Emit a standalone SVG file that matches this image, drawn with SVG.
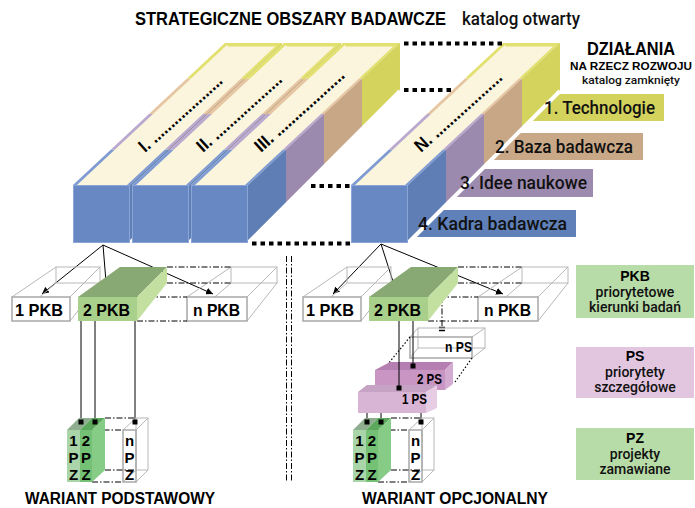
<svg xmlns="http://www.w3.org/2000/svg" width="695" height="508" viewBox="0 0 695 508">
<defs>
<style>
.b{font-family:"Liberation Sans",Arial,sans-serif;font-weight:bold;fill:#000}
.m{font-family:Roboto,"Liberation Sans",Arial,sans-serif;font-weight:500;fill:#111}
.cream{fill:#faf5dc}
.fb{fill:#6888c3;stroke:#8aa5d8;stroke-width:1}
.rb{fill:#5e7eb5}.rp{fill:#9c8aae}.rt{fill:#c8a787}.ry{fill:#d4d35d}
.sb{fill:#7f9bd3}.sp{fill:#b9a8cf}.st{fill:#e6c6a2}.sy{fill:#e2e16f}
.wire{fill:none;stroke:#b8b8b8;stroke-width:1}
.wf{fill:#fff;stroke:#a8a8a8;stroke-width:1.5}
.wfn{fill:none;stroke:#a8a8a8;stroke-width:1.5}
.dd{fill:none;stroke:#000;stroke-width:1;stroke-dasharray:6 2 1.5 2}
.dot{fill:none;stroke:#000;stroke-width:4;stroke-dasharray:4.5 4}
.fdot{fill:none;stroke:#000;stroke-width:1.2;stroke-dasharray:1.5 2}
.ln{stroke:#000;stroke-width:1;fill:none}
.mk{fill:#000}
</style>
<marker id="ah" viewBox="0 0 10 10" refX="10" refY="5" markerWidth="7" markerHeight="7" orient="auto" markerUnits="userSpaceOnUse"><path d="M0,0 L10,5 L0,10 z" fill="#000"/></marker>
<g id="beam">
<polygon class="cream" points="0,185 57,185 209,43 152,43"/>
<polygon class="sb" points="0,185 38,149.5 42,149.5 4,185"/>
<polygon class="sp" points="38,149.5 76,114 80,114 42,149.5"/>
<polygon class="st" points="76,114 114,78.5 118,78.5 80,114"/>
<polygon class="sy" points="114,78.5 152,43 156,43 118,78.5"/>
<polygon class="sy" points="152,43 209,43 206,46.5 155,46.5"/>
<polygon class="sb" points="57,185 95,149.5 92,149.5 54,185"/>
<polygon class="sp" points="95,149.5 133,114 130,114 92,149.5"/>
<polygon class="st" points="133,114 171,78.5 168,78.5 130,114"/>
<polygon class="sy" points="171,78.5 209,43 206,43 168,78.5"/>
<polygon class="rb" points="57,185 95,149.5 95,205 57,243"/>
<polygon class="rp" points="95,149.5 133,114 133,167 95,205"/>
<polygon class="rt" points="133,114 171,78.5 171,129 133,167"/>
<polygon class="ry" points="171,78.5 209,43 209,91 171,129"/>
<line x1="57" y1="243" x2="209" y2="91" stroke="#fff" stroke-width="4"/>
<rect class="fb" x="0.5" y="185.5" width="56" height="57"/>
</g>
</defs>

<g id="title">
<text class="b" x="135" y="25" font-size="18" textLength="311" lengthAdjust="spacingAndGlyphs">STRATEGICZNE OBSZARY BADAWCZE</text>
<text class="m" x="462" y="25" font-size="18" textLength="118" lengthAdjust="spacingAndGlyphs">katalog otwarty</text>
</g>
<g id="dzialania">
<text class="b" x="631" y="55" font-size="18" text-anchor="middle" textLength="88" lengthAdjust="spacingAndGlyphs">DZIAŁANIA</text>
<text class="b" x="631" y="70" font-size="11" text-anchor="middle" textLength="122" lengthAdjust="spacingAndGlyphs">NA RZECZ ROZWOJU</text>
<text class="m" x="631" y="84" font-size="11" text-anchor="middle" textLength="98" lengthAdjust="spacingAndGlyphs">katalog zamknięty</text>
</g>

<g id="labels">
<rect x="522" y="94" width="142" height="27" fill="#d3d25c"/>
<rect x="484" y="133" width="159" height="27" fill="#c9a887"/>
<rect x="446" y="169" width="147" height="28" fill="#9d8baf"/>
<rect x="408" y="210" width="168" height="27" fill="#5f80b8"/>
</g>

<g id="beam-I" transform="translate(73,0)"><use href="#beam"/></g>
<g id="beam-II" transform="translate(132,0)"><use href="#beam"/></g>
<g id="beam-III" transform="translate(191,0)"><use href="#beam"/></g>
<g id="beam-N" transform="translate(351,0)"><use href="#beam"/></g>

<g id="beam-texts">
<text class="b" font-size="18" transform="translate(145,153) rotate(-42)" textLength="106" lengthAdjust="spacingAndGlyphs">I. ....................</text>
<text class="b" font-size="18" transform="translate(203,153) rotate(-42)" textLength="108" lengthAdjust="spacingAndGlyphs">II. ...................</text>
<text class="b" font-size="18" transform="translate(261,153) rotate(-42)" textLength="114" lengthAdjust="spacingAndGlyphs">III. ...................</text>
<text class="b" font-size="18" transform="translate(421,153) rotate(-42)" textLength="111" lengthAdjust="spacingAndGlyphs">N. ...................</text>
</g>

<g id="label-texts">
<text class="m" x="544" y="114" font-size="18" textLength="111" lengthAdjust="spacingAndGlyphs">1. Technologie</text>
<text class="m" x="495" y="153" font-size="18" textLength="138" lengthAdjust="spacingAndGlyphs">2. Baza badawcza</text>
<text class="m" x="460" y="189" font-size="18" textLength="127" lengthAdjust="spacingAndGlyphs">3. Idee naukowe</text>
<text class="m" x="418" y="230" font-size="18" textLength="149" lengthAdjust="spacingAndGlyphs">4. Kadra badawcza</text>
</g>

<g id="connectors">
<line class="dot" x1="404" y1="43.5" x2="503" y2="43.5"/>
<line class="dot" x1="404" y1="90" x2="452" y2="90"/>
<line class="dot" x1="311" y1="186" x2="350" y2="186"/>
<line class="dot" x1="252" y1="243.5" x2="350" y2="243.5"/>
<line class="dd" x1="286.5" y1="256" x2="286.5" y2="482"/>
<line class="dd" x1="291.5" y1="256" x2="291.5" y2="482"/>
<line class="ln" x1="103" y1="245" x2="42" y2="294" marker-end="url(#ah)"/>
<line class="ln" x1="103" y1="245" x2="107" y2="294" marker-end="url(#ah)"/>
<line class="ln" x1="103" y1="245" x2="213" y2="294" marker-end="url(#ah)"/>
<line class="ln" x1="381" y1="244" x2="333" y2="294" marker-end="url(#ah)"/>
<line class="ln" x1="381" y1="244" x2="397" y2="294" marker-end="url(#ah)"/>
<line class="ln" x1="381" y1="244" x2="503" y2="294" marker-end="url(#ah)"/>
</g>

<g id="pkb-left">
<g id="pkb1-l">
<rect class="wire" x="56" y="267" width="44" height="16"/>
<path class="wire" d="M12,297 L56,267 M70,297 L100,267 M70,321 L100,283 M12,321 L56,283"/>
<rect class="wf" x="12" y="297" width="58" height="24"/>
<text class="b" x="15" y="316" font-size="17" textLength="48" lengthAdjust="spacingAndGlyphs">1 PKB</text>
</g>
<g id="pkbn-l">
<rect class="wire" x="231" y="267" width="46" height="16"/>
<path class="wire" d="M187,297 L231,267 M247,297 L277,267 M247,321 L277,283 M187,321 L231,283"/>
<rect class="wf" x="187" y="297" width="60" height="24"/>
<text class="b" x="193" y="316" font-size="17" textLength="47" lengthAdjust="spacingAndGlyphs">n PKB</text>
</g>
<path class="dd" d="M167,267 H231 M167,283 H231 M137,297 H187 M137,321 H187"/>
<g id="pkb2-l">
<polygon points="78,297 137,297 167,267 120,267" fill="#88a973"/>
<polygon points="137,297 167,267 167,283 137,321" fill="#c4e0a1"/>
<rect x="78" y="297" width="59" height="24" fill="#a8d08b"/>
<text class="b" x="83" y="316" font-size="17" textLength="47" lengthAdjust="spacingAndGlyphs">2 PKB</text>
</g>
</g>

<g id="pkb-right">
<g id="pkb1-r">
<rect class="wire" x="347" y="267" width="44" height="16"/>
<path class="wire" d="M303,297 L347,267 M361,297 L391,267 M361,321 L391,283 M303,321 L347,283"/>
<rect class="wf" x="303" y="297" width="58" height="24"/>
<text class="b" x="306" y="316" font-size="17" textLength="48" lengthAdjust="spacingAndGlyphs">1 PKB</text>
</g>
<g id="pkbn-r">
<rect class="wire" x="522" y="267" width="46" height="16"/>
<path class="wire" d="M478,297 L522,267 M538,297 L568,267 M538,321 L568,283 M478,321 L522,283"/>
<rect class="wf" x="478" y="297" width="60" height="24"/>
<text class="b" x="484" y="316" font-size="17" textLength="47" lengthAdjust="spacingAndGlyphs">n PKB</text>
</g>
<path class="dd" d="M458,267 H522 M458,283 H522 M428,297 H478 M428,321 H478 M442,297 V327"/>
<path d="M439,327.5 h6 M439,330.5 h6" stroke="#000" stroke-width="1.5"/>
<g id="pkb2-r">
<polygon points="369,297 428,297 458,267 411,267" fill="#88a973"/>
<polygon points="428,297 458,267 458,283 428,321" fill="#c4e0a1"/>
<rect x="369" y="297" width="59" height="24" fill="#a8d08b"/>
<text class="b" x="374" y="316" font-size="17" textLength="47" lengthAdjust="spacingAndGlyphs">2 PKB</text>
</g>
</g>

<g id="ps-stack">
<g id="psn">
<rect class="wire" x="418" y="328" width="67" height="20"/>
<path class="wire" d="M410,337 L418,328 M472,337 L485,328 M472,358 L485,348 M410,358 L418,348"/>
<rect class="wfn" x="410" y="337" width="62" height="21"/>
<text class="b" x="445" y="352" font-size="14" textLength="27" lengthAdjust="spacingAndGlyphs">n PS</text>
</g>
<path class="fdot" d="M410,337 L388,364 M472,358 L455,382"/>
<g id="ps2">
<polygon points="375,370 445,370 453,362 390,362" fill="#b67fb1"/>
<polygon points="445,370 453,362 453,384 445,390" fill="#d5acd1"/>
<rect x="375" y="370" width="70" height="20" fill="#c996c4"/>
<text class="b" x="417" y="384" font-size="14" textLength="25" lengthAdjust="spacingAndGlyphs">2 PS</text>
</g>
<g id="ps1">
<polygon points="358,392 426,392 437,385 367,385" fill="#c6a2c4"/>
<polygon points="426,392 437,385 437,408 426,413" fill="#e6cde4"/>
<rect x="358" y="392" width="68" height="21" fill="#d8b5d5"/>
<text class="b" x="402" y="404" font-size="14" textLength="25" lengthAdjust="spacingAndGlyphs">1 PS</text>
</g>
</g>

<g id="drops">
<path class="ln" d="M81,321 V422 M95,321 V422 M135,321 V422"/>
<path class="ln" d="M399,321 V388 M413,321 V366"/>
<path class="ln" d="M367,413 V422 M381,413 V422 M421,413 V422"/>
</g>

<g id="pz-left">
<g id="pzn-l">
<rect class="wire" x="136" y="418" width="12" height="52"/>
<path class="wire" d="M123,430 L136,418 M136,430 L148,418 M136,482 L148,470 M123,482 L136,470"/>
<rect class="wfn" x="123" y="430" width="13" height="52"/>
<text class="b" x="129.5" y="446" font-size="15" text-anchor="middle">n</text>
<text class="b" x="129.5" y="463" font-size="15" text-anchor="middle">P</text>
<text class="b" x="129.5" y="480" font-size="15" text-anchor="middle">Z</text>
</g>
<path class="dd" d="M105,418 H136 M92,430 H123 M105,470 H136 M92,482 H123"/>
<g id="pz1-l">
<polygon points="67,430 80,430 92,418 79,418" fill="#8fae8f"/>
<rect x="67" y="430" width="13" height="52" fill="#a9d5a9"/>
<text class="b" x="73.5" y="446" font-size="15" text-anchor="middle">1</text>
<text class="b" x="73.5" y="463" font-size="15" text-anchor="middle">P</text>
<text class="b" x="73.5" y="480" font-size="15" text-anchor="middle">Z</text>
</g>
<g id="pz2-l">
<polygon points="80,430 92,430 105,418 92,418" fill="#5ca85c"/>
<polygon points="92,430 105,418 105,470 92,482" fill="#86cc86"/>
<rect x="80" y="430" width="12" height="52" fill="#74c074"/>
<text class="b" x="86" y="446" font-size="15" text-anchor="middle">2</text>
<text class="b" x="86" y="463" font-size="15" text-anchor="middle">P</text>
<text class="b" x="86" y="480" font-size="15" text-anchor="middle">Z</text>
</g>
<path class="mk" d="M78.5,419.5 h5 v5 h-5z M92.5,419.5 h5 v5 h-5z M132.5,419.5 h5 v5 h-5z"/>
</g>

<g id="pz-right" transform="translate(286,0)">
<g id="pzn-r">
<rect class="wire" x="136" y="418" width="12" height="52"/>
<path class="wire" d="M123,430 L136,418 M136,430 L148,418 M136,482 L148,470 M123,482 L136,470"/>
<rect class="wfn" x="123" y="430" width="13" height="52"/>
<text class="b" x="129.5" y="446" font-size="15" text-anchor="middle">n</text>
<text class="b" x="129.5" y="463" font-size="15" text-anchor="middle">P</text>
<text class="b" x="129.5" y="480" font-size="15" text-anchor="middle">Z</text>
</g>
<path class="dd" d="M105,418 H136 M92,430 H123 M105,470 H136 M92,482 H123"/>
<g id="pz1-r">
<polygon points="67,430 80,430 92,418 79,418" fill="#8fae8f"/>
<rect x="67" y="430" width="13" height="52" fill="#a9d5a9"/>
<text class="b" x="73.5" y="446" font-size="15" text-anchor="middle">1</text>
<text class="b" x="73.5" y="463" font-size="15" text-anchor="middle">P</text>
<text class="b" x="73.5" y="480" font-size="15" text-anchor="middle">Z</text>
</g>
<g id="pz2-r">
<polygon points="80,430 92,430 105,418 92,418" fill="#5ca85c"/>
<polygon points="92,430 105,418 105,470 92,482" fill="#86cc86"/>
<rect x="80" y="430" width="12" height="52" fill="#74c074"/>
<text class="b" x="86" y="446" font-size="15" text-anchor="middle">2</text>
<text class="b" x="86" y="463" font-size="15" text-anchor="middle">P</text>
<text class="b" x="86" y="480" font-size="15" text-anchor="middle">Z</text>
</g>
<path class="mk" d="M78.5,419.5 h5 v5 h-5z M92.5,419.5 h5 v5 h-5z M132.5,419.5 h5 v5 h-5z"/>
</g>
<path class="mk" d="M396.5,385.5 h5 v5 h-5z M410.5,363.5 h5 v5 h-5z"/>

<g id="legend-pkb">
<rect x="576" y="265" width="118" height="53" fill="#b8dca7"/>
<text class="b" x="635" y="281" font-size="14" text-anchor="middle">PKB</text>
<text class="m" x="635" y="297" font-size="14" text-anchor="middle">priorytetowe</text>
<text class="m" x="635" y="312" font-size="14" text-anchor="middle">kierunki badań</text>
</g>
<g id="legend-ps">
<rect x="576" y="347" width="118" height="51" fill="#e2c6e0"/>
<text class="b" x="635" y="361" font-size="14" text-anchor="middle">PS</text>
<text class="m" x="635" y="377" font-size="14" text-anchor="middle">priorytety</text>
<text class="m" x="635" y="392" font-size="14" text-anchor="middle">szczegółowe</text>
</g>
<g id="legend-pz">
<rect x="576" y="428" width="118" height="52" fill="#b8dca7"/>
<text class="b" x="635" y="443" font-size="14" text-anchor="middle">PZ</text>
<text class="m" x="635" y="459" font-size="14" text-anchor="middle">projekty</text>
<text class="m" x="635" y="474" font-size="14" text-anchor="middle">zamawiane</text>
</g>

<g id="variants">
<text class="b" x="25" y="504" font-size="16" textLength="190" lengthAdjust="spacingAndGlyphs">WARIANT PODSTAWOWY</text>
<text class="b" x="362" y="504" font-size="16" textLength="186" lengthAdjust="spacingAndGlyphs">WARIANT OPCJONALNY</text>
</g>
</svg>
